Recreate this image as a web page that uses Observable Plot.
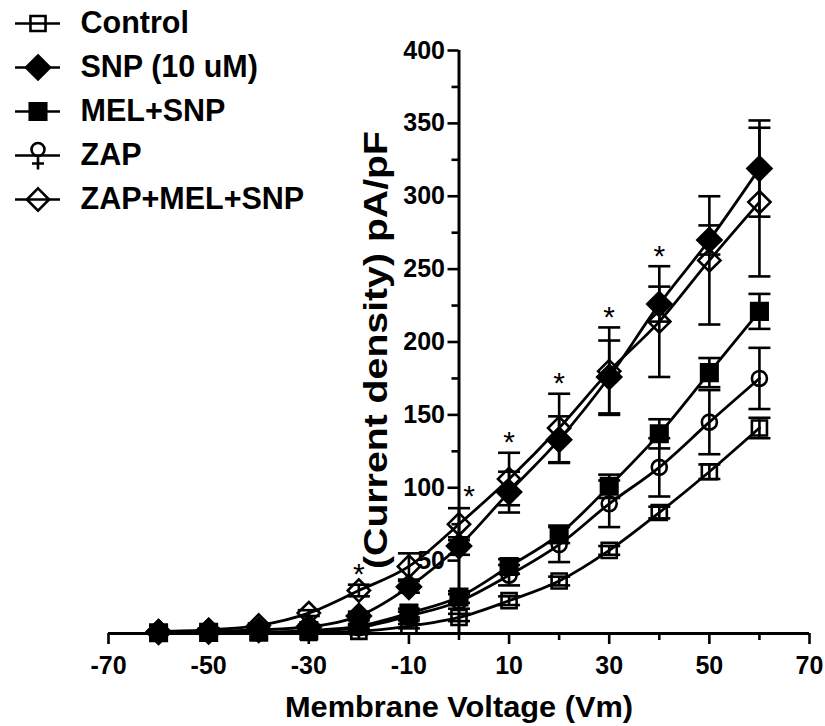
<!DOCTYPE html>
<html>
<head>
<meta charset="utf-8">
<script src="https://cdn.jsdelivr.net/npm/d3@7"></script>
<script src="https://cdn.jsdelivr.net/npm/@observablehq/plot@0.6"></script>
<style>
  body { margin: 0; background: #fff; }
  #chart { position: relative; width: 825px; height: 726px; }
  #chart svg { position: absolute; left: 0; top: 0; overflow: visible; }
</style>
</head>
<body>
<div id="chart"></div>
<script>
// Membrane voltage steps (mV)
const voltage = [-60, -50, -40, -30, -20, -10, 0, 10, 20, 30, 40, 50, 60];

// Mean current density (pA/pF) and SEM for each condition
const control       = [0.5, 0.5, 0.5, 0.8, 1.5, 5, 11, 22.5, 36, 57, 83, 111, 141];
const controlSem    = [0.3, 0.3, 0.3, 0.5, 0.8, 1.5, 2.5, 3, 3, 3, 4, 5, 7];
const snp           = [1, 1.5, 2.5, 4.5, 12, 32, 60, 97, 133, 176, 226, 270, 319];
const snpSem        = [0.5, 0.5, 1, 1.5, 3, 4, 6, 14, 16, 25, 12, 10, 33];
const melSnp        = [0.5, 0.8, 1, 2, 5, 14, 25, 46, 68, 101, 137, 179, 221];
const melSnpSem     = [0.3, 0.3, 0.5, 1, 1.5, 3, 4, 5, 6, 8, 10, 10, 12];
const zap           = [0.5, 0.5, 0.8, 1.5, 4, 12, 22, 40, 61, 89, 114, 145, 175];
const zapSem        = [0.3, 0.3, 0.5, 0.8, 1.5, 3, 5, 7, 12, 16, 20, 22, 21];
const zapMelSnp     = [1.5, 2.5, 5.5, 14, 29.5, 46, 75, 106, 141, 180, 214, 256, 296];
const zapMelSnpSem  = [0.5, 1, 1.5, 2, 4, 9, 11, 18, 23.5, 30, 38, 44, 51];

// Series names, in legend order
const seriesNames = ["Control", "SNP (10 uM)", "MEL+SNP", "ZAP", "ZAP+MEL+SNP"];

// Voltages marked as significant
const starVoltages = [-20, 10, 20, 30, 40];
const starVoltagesAtAxis = [0];

// Axis ticks
const xMajorTicks = [-70, -50, -30, -10, 10, 30, 50, 70];
const xMinorTicks = [-60, -40, -20, 0, 20, 40, 60];
const yMajorTicks = [50, 100, 150, 200, 250, 300, 350, 400];
const yMinorTicks = [25, 75, 125, 175, 225, 275, 325, 375];

const xLabel = "Membrane Voltage (Vm)";
const yLabel = "(Current density) pA/pF";

// Marker styling per series
const styles = [
  {symbol: "square",   fill: "none",  r: 8.5},
  {symbol: "diamond2", fill: "black", r: 10.8},
  {symbol: "square",   fill: "black", r: 9.3},
  {symbol: "circle",   fill: "none",  r: 7.5},
  {symbol: "diamond2", fill: "none",  r: 10}
];
const means = [control, snp, melSnp, zap, zapMelSnp];
const sems = [controlSem, snpSem, melSnpSem, zapSem, zapMelSnpSem];

const series = seriesNames.map((name, k) => ({
  name,
  ...styles[k],
  rows: voltage.map((v, i) => ({v, mean: means[k][i], lo: means[k][i] - sems[k][i], hi: means[k][i] + sems[k][i]}))
}));

// Star height: just above the highest error bar at that voltage
const topAt = (v) => d3.max(series, s => s.rows.find(r => r.v === v).hi);
const stars = starVoltages.map(v => ({v, top: topAt(v)}));
const starsAxis = starVoltagesAtAxis.map(v => ({v, top: topAt(v)}));

// Horizontal cap for error bars
const cap = {draw(ctx) { ctx.moveTo(-11, 0); ctx.lineTo(11, 0); }};

// Legend glyph for ZAP: open circle with its error stub below
const zapLegendGlyph = {draw(ctx) {
  ctx.moveTo(6.5, -6); ctx.arc(0, -6, 6.5, 0, 2 * Math.PI);
  ctx.moveTo(0, 0.5); ctx.lineTo(0, 14);
  ctx.moveTo(-6, 8); ctx.lineTo(6, 8);
}};

const W = 825, H = 726;
const mL = 108, mR = 16, mT = 50, mB = 93;
const xDomain = [-70, 70];
const yDomain = [0, 400];
// the y axis sits at 0 V, inside the frame
const yAxisShift = (0 - xDomain[0]) / (xDomain[1] - xDomain[0]) * (W - mL - mR);

const font = "'Liberation Sans', Arial, Helvetica, sans-serif";
const sw = 2.6;

const marks = [
  Plot.ruleY([0], {strokeWidth: 3}),
  Plot.ruleX([0], {strokeWidth: 3}),
  Plot.axisX({ticks: xMajorTicks, tickSize: 11, tickPadding: 12, strokeWidth: sw, fontSize: 25, label: null, tickFormat: d => d}),
  Plot.axisX({ticks: xMinorTicks, tickSize: 7, strokeWidth: sw, label: null, tickFormat: () => ""}),
  Plot.axisY({ticks: yMajorTicks, tickSize: 11, tickPadding: 3, dx: yAxisShift, strokeWidth: sw, fontSize: 25, label: null, tickFormat: d => d}),
  Plot.axisY({ticks: yMinorTicks, tickSize: 7, dx: yAxisShift, strokeWidth: sw, label: null, tickFormat: () => ""}),
  Plot.text([xLabel], {text: d => d, frameAnchor: "bottom", lineAnchor: "middle", dy: 74, fontSize: 30}),
  Plot.text([yLabel], {text: d => d, frameAnchor: "left", textAnchor: "middle", lineAnchor: "middle", rotate: -90, dx: 268, dy: 8, fontSize: 33})
];

for (const s of series) {
  marks.push(
    Plot.ruleX(s.rows, {x: "v", y1: "lo", y2: "hi", strokeWidth: sw}),
    Plot.dot(s.rows, {x: "v", y: "hi", symbol: cap, stroke: "black", strokeWidth: sw}),
    Plot.dot(s.rows, {x: "v", y: "lo", symbol: cap, stroke: "black", strokeWidth: sw})
  );
}
for (const s of series) {
  marks.push(Plot.line(s.rows, {x: "v", y: "mean", curve: "monotone-x", strokeWidth: 2.8}));
}
for (const s of series) {
  marks.push(Plot.dot(s.rows, {x: "v", y: "mean", symbol: s.symbol, r: s.r, fill: s.fill, stroke: "black", strokeWidth: sw}));
}
marks.push(
  Plot.text(stars, {x: "v", y: "top", text: () => "*", dy: -10, fontSize: 30, fontWeight: "normal"}),
  Plot.text(starsAxis, {x: "v", y: "top", text: () => "*", dx: 10, dy: -12, fontSize: 30, fontWeight: "normal"})
);

const chart = Plot.plot({
  width: W, height: H,
  marginLeft: mL, marginRight: mR, marginTop: mT, marginBottom: mB,
  x: {domain: xDomain},
  y: {domain: yDomain},
  style: {fontFamily: font, fontWeight: "bold", color: "black", background: "white", overflow: "visible"},
  marks
});

// stretch the axis titles to their drawn lengths
for (const t of chart.querySelectorAll("text")) {
  if (t.textContent === yLabel) { t.setAttribute("textLength", 438); t.setAttribute("lengthAdjust", "spacingAndGlyphs"); }
  if (t.textContent === xLabel) { t.setAttribute("textLength", 348); t.setAttribute("lengthAdjust", "spacingAndGlyphs"); }
}

// Legend in the upper-left corner
const legendGlyphs = series.map(s => s.name === "ZAP" ? {...s, symbol: zapLegendGlyph} : s);
const legend = Plot.plot({
  width: 330, height: 220,
  marginLeft: 15, marginRight: 270, marginTop: 22, marginBottom: 20,
  x: {domain: [0, 1], axis: null},
  y: {type: "point", domain: seriesNames, padding: 0, axis: null},
  style: {fontFamily: font, fontWeight: "bold", color: "black", background: "transparent", overflow: "visible"},
  marks: [
    Plot.ruleY(seriesNames, {y: d => d, strokeWidth: sw}),
    ...legendGlyphs.map(s => Plot.dot([s.name], {y: d => d, symbol: s.symbol, r: s.r, fill: s.fill, stroke: "black", strokeWidth: sw})),
    Plot.text(seriesNames, {y: d => d, text: d => d, frameAnchor: "right", textAnchor: "start", dx: 20, fontSize: 30.5})
  ]
});

const host = document.getElementById("chart");
host.appendChild(chart);
host.appendChild(legend);
</script>
</body>
</html>
